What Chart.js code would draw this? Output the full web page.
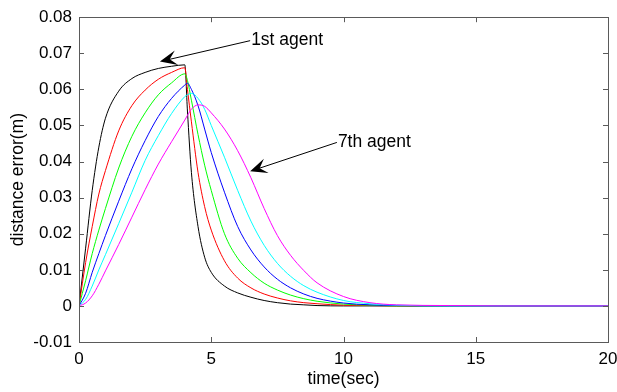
<!DOCTYPE html>
<html>
<head>
<meta charset="utf-8">
<script src="https://cdn.jsdelivr.net/npm/chart.js@4.4.1/dist/chart.umd.min.js"></script>
<style>
  html, body { margin: 0; padding: 0; background: #fff; }
  #wrap { width: 617px; height: 392px; position: relative; }
</style>
</head>
<body>
<div id="wrap"><canvas id="chart"></canvas></div>
<script>
// time samples (sec)
const times = [0, 0.25, 0.5, 0.75, 1, 1.5, 2, 2.5, 3, 3.5, 4, 4.1, 4.25, 4.5, 4.75, 5, 5.5, 6, 6.5, 7, 7.5, 8, 8.5, 9, 10, 11, 12, 14, 16, 20];

// distance error (m) per agent curve
const blackErr   = [0, 0.016, 0.032, 0.044, 0.052, 0.0595, 0.063, 0.0647, 0.0658, 0.0664, 0.0668, 0.054, 0.037, 0.022, 0.0135, 0.0093, 0.0055, 0.0036, 0.0024, 0.0015, 0.0009, 0.0005, 0.0003, 0.0001, 0, 0, 0, 0, 0, 0];
const redErr     = [0, 0.012, 0.022, 0.031, 0.0375, 0.0485, 0.0555, 0.0598, 0.0628, 0.0647, 0.066, 0.060, 0.051, 0.037, 0.0275, 0.021, 0.0125, 0.0077, 0.0050, 0.0033, 0.0022, 0.0014, 0.0009, 0.0006, 0.0002, 0.0001, 0, 0, 0, 0];
const greenErr   = [0, 0.007, 0.0145, 0.021, 0.027, 0.0382, 0.047, 0.0535, 0.0585, 0.0618, 0.0643, 0.0625, 0.057, 0.0475, 0.039, 0.032, 0.020, 0.0132, 0.0092, 0.0063, 0.0044, 0.0030, 0.0020, 0.0013, 0.0005, 0.0002, 0, 0, 0, 0];
const blueErr    = [0, 0.0035, 0.0093, 0.0145, 0.0195, 0.029, 0.038, 0.0458, 0.0525, 0.0575, 0.0612, 0.0617, 0.060, 0.0555, 0.049, 0.0425, 0.0315, 0.022, 0.0155, 0.0108, 0.0074, 0.0050, 0.0033, 0.0021, 0.0008, 0.0003, 0.0001, 0, 0, 0];
const cyanErr    = [0, 0.0018, 0.0055, 0.0100, 0.0142, 0.0228, 0.0315, 0.0403, 0.0472, 0.0533, 0.058, 0.0585, 0.0589, 0.0575, 0.0545, 0.050, 0.0412, 0.032, 0.0235, 0.0168, 0.0118, 0.0082, 0.0056, 0.0038, 0.0015, 0.0006, 0.0002, 0, 0, 0];
const magentaErr = [0, 0.0008, 0.0028, 0.006, 0.0097, 0.017, 0.0246, 0.0322, 0.0393, 0.0455, 0.0515, 0.0528, 0.0545, 0.0557, 0.0553, 0.0535, 0.049, 0.043, 0.0355, 0.027, 0.0195, 0.014, 0.0098, 0.0064, 0.0026, 0.0009, 0.0003, 0.0001, 0, 0];

const xTicks = [0, 5, 10, 15, 20];
const yTicks = [-0.01, 0, 0.01, 0.02, 0.03, 0.04, 0.05, 0.06, 0.07, 0.08];

// annotation anchors in data units: text start and arrow tip
const note1 = { text: "1st agent", from: [6.47, 0.0735], to: [3.06, 0.0677] };
const note7 = { text: "7th agent", from: [9.75, 0.0453], to: [6.47, 0.0373] };

const series = [
  { data: blackErr, color: "#000000" },
  { data: redErr, color: "#ff0000" },
  { data: greenErr, color: "#00ff00" },
  { data: blueErr, color: "#0000ff" },
  { data: cyanErr, color: "#00ffff" },
  { data: magentaErr, color: "#ff00ff" }
];

const FONT = "'Liberation Sans', Arial, sans-serif";
const AXIS_COLOR = "#5a5a5a";

// box frame + inward ticks on all four sides (matlab style)
const framePlugin = {
  id: "frame",
  afterDatasetsDraw(chart) {
    const { ctx, chartArea: a, scales } = chart;
    ctx.save();
    ctx.strokeStyle = AXIS_COLOR;
    ctx.lineWidth = 1;
    ctx.strokeRect(Math.round(a.left) + 0.5, Math.round(a.top) + 0.5,
      Math.round(a.right - a.left), Math.round(a.bottom - a.top));
    const len = 5;
    ctx.beginPath();
    xTicks.forEach(v => {
      const x = Math.round(scales.x.getPixelForValue(v)) + 0.5;
      ctx.moveTo(x, a.bottom); ctx.lineTo(x, a.bottom - len);
      ctx.moveTo(x, a.top); ctx.lineTo(x, a.top + len);
    });
    yTicks.forEach(v => {
      const y = Math.round(scales.y.getPixelForValue(v)) + 0.5;
      ctx.moveTo(a.left, y); ctx.lineTo(a.left + len, y);
      ctx.moveTo(a.right, y); ctx.lineTo(a.right - len, y);
    });
    ctx.stroke();
    ctx.restore();
  }
};

function drawArrow(ctx, x0, y0, x1, y1) {
  const ang = Math.atan2(y1 - y0, x1 - x0);
  ctx.beginPath();
  ctx.moveTo(x0, y0);
  ctx.lineTo(x1 - Math.cos(ang) * 8, y1 - Math.sin(ang) * 8);
  ctx.stroke();
  // notched arrow head
  const L = 17, W = 7.5, notch = 10;
  ctx.save();
  ctx.translate(x1, y1);
  ctx.rotate(ang);
  ctx.beginPath();
  ctx.moveTo(0, 0);
  ctx.lineTo(-L, -W);
  ctx.lineTo(-notch, 0);
  ctx.lineTo(-L, W);
  ctx.closePath();
  ctx.fill();
  ctx.restore();
}

const notePlugin = {
  id: "notes",
  afterDraw(chart) {
    const { ctx, scales } = chart;
    ctx.save();
    ctx.strokeStyle = "#000";
    ctx.fillStyle = "#000";
    ctx.lineWidth = 1;
    ctx.font = "17.5px " + FONT;
    ctx.textBaseline = "middle";
    [note1, note7].forEach(n => {
      const x0 = scales.x.getPixelForValue(n.from[0]);
      const y0 = scales.y.getPixelForValue(n.from[1]);
      const x1 = scales.x.getPixelForValue(n.to[0]);
      const y1 = scales.y.getPixelForValue(n.to[1]);
      drawArrow(ctx, x0, y0, x1, y1);
      ctx.fillText(n.text, x0 + 1, y0);
    });
    ctx.restore();
  }
};

const ctx = document.getElementById("chart").getContext("2d");
new Chart(ctx, {
  type: "line",
  data: {
    datasets: series.map((s, i) => ({
      data: times.map((t, j) => ({ x: t, y: s.data[j] })),
      borderColor: s.color,
      borderWidth: 1,
      pointRadius: 0,
      fill: false,
      cubicInterpolationMode: "monotone",
      order: series.length - i
    }))
  },
  options: {
    responsive: true,
    maintainAspectRatio: false,
    animation: false,
    devicePixelRatio: 1,
    layout: { padding: { top: 14, right: 9, left: 0, bottom: 0 } },
    plugins: { legend: { display: false }, tooltip: { enabled: false } },
    scales: {
      x: {
        type: "linear",
        min: 0,
        max: 20,
        afterBuildTicks: scale => { scale.ticks = xTicks.map(v => ({ value: v })); },
        afterFit: scale => { scale.height = 50; scale.paddingLeft = 0; scale.paddingRight = 0; },
        grid: { display: false, drawTicks: false },
        border: { display: false },
        ticks: { color: "#000", padding: 7, font: { family: FONT, size: 17 }, maxRotation: 0 },
        title: { display: true, text: "time(sec)", color: "#000", font: { family: FONT, size: 17.5 }, padding: { top: 0, bottom: 2 } }
      },
      y: {
        min: -0.01,
        max: 0.08,
        afterBuildTicks: scale => { scale.ticks = yTicks.map(v => ({ value: v })); },
        afterFit: scale => { scale.width = 79; },
        grid: { display: false, drawTicks: false },
        border: { display: false },
        ticks: {
          color: "#000",
          padding: 7,
          font: { family: FONT, size: 17 },
          callback: v => (Math.abs(v) < 1e-9 ? "0" : v.toFixed(2))
        },
        title: { display: true, text: "distance error(m)", color: "#000", font: { family: FONT, size: 17.5 }, padding: { top: 8, bottom: 0 } }
      }
    }
  },
  plugins: [framePlugin, notePlugin]
});
</script>
</body>
</html>
